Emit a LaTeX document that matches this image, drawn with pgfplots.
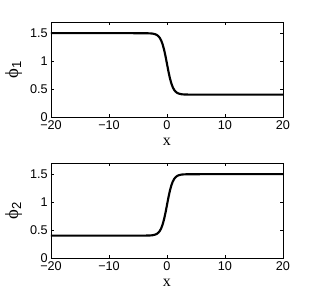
\documentclass[border=0pt]{standalone}
\usepackage{fontspec}
\setmainfont{Liberation Sans}
\newfontfamily\seriffont{Liberation Serif}
\usepackage{pgfplots}
\pgfplotsset{compat=1.18}
\pgfplotstableread{
x y
-20 1.5
-6 1.5
-4 1.4996
-3 1.497
-2.5 1.493
-2 1.480
-1.75 1.468
-1.5 1.448
-1.25 1.417
-1 1.369
-0.75 1.299
-0.5 1.204
-0.25 1.085
0 0.95
0.25 0.815
0.5 0.696
0.75 0.601
1 0.531
1.25 0.483
1.5 0.452
1.75 0.432
2 0.420
2.5 0.407
3 0.403
4 0.4004
6 0.4
20 0.4
}\phione
\pgfplotstableread{
x y
-20 0.4
-6 0.4
-4 0.4004
-3 0.403
-2.5 0.407
-2 0.420
-1.75 0.432
-1.5 0.452
-1.25 0.483
-1 0.531
-0.75 0.601
-0.5 0.696
-0.25 0.815
0 0.95
0.25 1.085
0.5 1.204
0.75 1.299
1 1.369
1.25 1.417
1.5 1.448
1.75 1.468
2 1.480
2.5 1.493
3 1.497
4 1.4996
6 1.5
20 1.5
}\phitwo
\begin{document}
\begin{tikzpicture}
\path (0pt,0pt) rectangle (234pt,223.5pt);
\pgfplotsset{
  myax/.style={
    scale only axis,
    width=174pt, height=71.25pt,
    xmin=-20, xmax=20, ymin=0, ymax=1.7,
    xtick={-20,-10,0,10,20},
    xticklabels={−20,−10,0,10,20},
    ytick={0,0.5,1,1.5},
    yticklabels={0,0.5,1,1.5},
    tick align=inside,
    major tick length=2.5pt,
    axis line style={line width=0.5pt},
    every tick/.style={line width=0.4pt,black},
    tick label style={font=\fontsize{9.5}{11}\selectfont},
    xticklabel style={yshift=1pt},
    yticklabel style={xshift=1pt},
    xlabel style={font=\fontsize{12}{13}\seriffont, yshift=0.5pt},
    ylabel style={font=\fontsize{14}{15}\seriffont, yshift=-1pt},
    xlabel={x},
  }
}
\begin{axis}[myax, at={(38.25pt,135.75pt)}, anchor=south west, ylabel={ϕ$_{\mathrm{1}}$}]
\addplot[black, line width=1.6pt] table[x=x,y=y] {\phione};
\end{axis}
\begin{axis}[myax, at={(38.25pt,30pt)}, anchor=south west, ylabel={ϕ$_{\mathrm{2}}$}]
\addplot[black, line width=1.6pt] table[x=x,y=y] {\phitwo};
\end{axis}
\end{tikzpicture}
\end{document}
